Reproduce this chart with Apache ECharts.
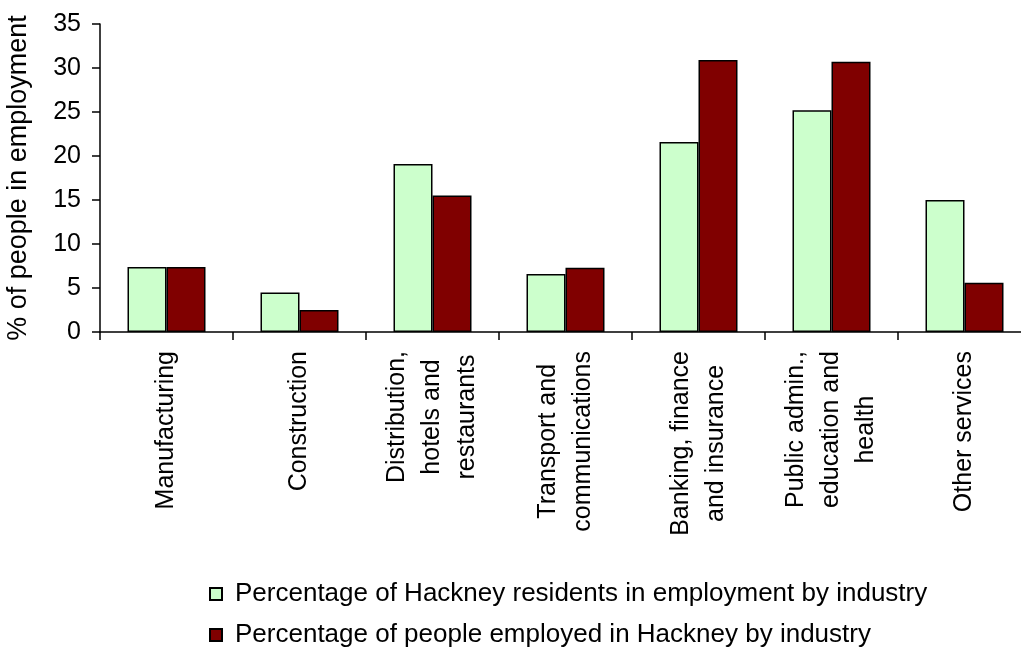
<!DOCTYPE html>
<html>
<head>
<meta charset="utf-8">
<script src="https://cdn.jsdelivr.net/npm/echarts@6/dist/echarts.min.js"></script>
<style>
  html, body { margin: 0; padding: 0; background: #fff; }
  #chart { width: 1021px; height: 648px; }
</style>
</head>
<body>
<div id="chart"></div>
<script>
// Employment by industry in Hackney (%)
const industries = [
  'Manufacturing',
  'Construction',
  'Distribution,\nhotels and\nrestaurants',
  'Transport and\ncommunications',
  'Banking, finance\nand insurance',
  'Public admin.,\neducation and\nhealth',
  'Other services'
];
const residentsShare = [7.4, 4.5, 19.1, 6.6, 21.6, 25.2, 15.0];
const employedInHackneyShare = [7.4, 2.5, 15.5, 7.3, 30.9, 30.7, 5.6];
const seriesNames = [
  'Percentage of Hackney residents in employment by industry',
  'Percentage of people employed in Hackney by industry'
];
const yTicks = [0, 5, 10, 15, 20, 25, 30, 35];

const FONT = '"Liberation Sans", Arial, sans-serif';
const chart = echarts.init(document.getElementById('chart'), null, { renderer: 'canvas' });

chart.setOption({
  animation: false,
  backgroundColor: '#ffffff',
  textStyle: { fontFamily: FONT, color: '#000' },
  grid: { left: 100, right: -10, top: 24, bottom: 316, containLabel: false, outerBoundsMode: 'none' },
  legend: {
    orient: 'vertical',
    left: 209,
    top: 581,
    padding: 0,
    itemWidth: 12,
    itemHeight: 12,
    itemGap: 15,
    icon: 'rect',
    textStyle: { fontFamily: FONT, fontSize: 26, color: '#000', padding: [0, 0, 0, 8] },
    data: seriesNames
  },
  xAxis: {
    type: 'category',
    data: industries,
    boundaryGap: true,
    axisLine: { lineStyle: { color: '#000', width: 1.5 } },
    axisTick: { show: true, length: 8, alignWithLabel: false, lineStyle: { color: '#000', width: 1.5 } },
    axisLabel: {
      interval: 0,
      rotate: 90,
      margin: 19,
      color: '#000',
      fontFamily: FONT,
      fontSize: 25,
      lineHeight: 35,
      formatter: function (v) {
        return v.split('\n').map(function (l) { return '{c|' + l + '}'; }).join('\n');
      },
      rich: {
        c: { align: 'center', fontFamily: FONT, fontSize: 25, lineHeight: 35, color: '#000' }
      }
    },
    splitLine: { show: false }
  },
  yAxis: {
    type: 'value',
    min: yTicks[0],
    max: yTicks[yTicks.length - 1],
    interval: 5,
    name: '% of people in employment',
    nameLocation: 'middle',
    nameGap: 68,
    nameRotate: 90,
    nameTextStyle: { fontFamily: FONT, fontSize: 27, color: '#000' },
    axisLine: { show: true, lineStyle: { color: '#000', width: 1.5 } },
    axisTick: { show: true, length: 8, lineStyle: { color: '#000', width: 1.5 } },
    axisLabel: { margin: 19, color: '#000', fontFamily: FONT, fontSize: 25 },
    splitLine: { show: false }
  },
  series: [
    {
      name: seriesNames[0],
      type: 'bar',
      data: residentsShare,
      barWidth: 39,
      barGap: '0%',
      itemStyle: { color: '#CCFFCC', borderColor: '#000', borderWidth: 1.5 }
    },
    {
      name: seriesNames[1],
      type: 'bar',
      data: employedInHackneyShare,
      barWidth: 39,
      barGap: '0%',
      itemStyle: { color: '#800000', borderColor: '#000', borderWidth: 1.5 }
    }
  ]
});
</script>
</body>
</html>
